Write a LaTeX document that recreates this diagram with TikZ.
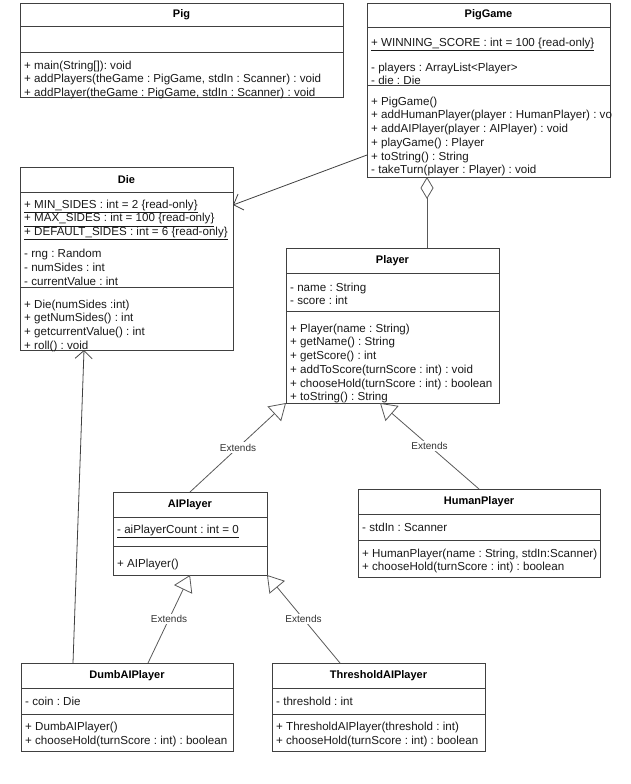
\documentclass[tikz,border=0pt]{standalone}
\usepackage{fontspec}
\setmainfont{Liberation Sans}
\usetikzlibrary{arrows.meta, positioning}

\begin{document}
\frenchspacing
\begin{tikzpicture}[
  x=1pt, y=-1pt,
  font=\fontsize{11.6}{13.7}\selectfont,
  head/.style={draw=black!75, line width=0.9pt, outer sep=0pt, anchor=north west, inner sep=0pt, font=\fontsize{11}{12}\selectfont\bfseries},
  part/.style={draw=black!75, line width=0.9pt, outer sep=0pt, inner sep=0pt},
  txt/.style={align=left, inner sep=0pt, text=black!90},
  ext/.style={draw=black!65, line width=0.8pt, -{Triangle[open, length=16pt, width=20pt]}},
  assoc/.style={draw=black!75, line width=0.8pt, -{Straight Barb[length=8pt, width=17pt]}},
  agg/.style={draw=black!65, line width=0.8pt, {Diamond[open, length=22pt, width=13pt]}-},
  lbl/.style={fill=white, inner sep=1.5pt, text=black!80, font=\fontsize{10}{11}\selectfont}
]
\useasboundingbox (0,0) rectangle (630,784);

% Pig
\node[head, minimum width=323pt, minimum height=23pt] (pigH) at (20,3) {Pig};
\node[part, minimum width=323pt, minimum height=26pt, below=0pt of pigH] (pigA) {};
\node[part, minimum width=323pt, minimum height=45pt, below=0pt of pigA] (pigM) {};
\node[txt, below right=7.5pt and 4pt of pigM.north west] (pigMt) {\strut+ main(String[]): void\\+ addPlayers(theGame : PigGame, stdIn : Scanner) : void\\+ addPlayer(theGame : PigGame, stdIn : Scanner) : void};

% PigGame
\begin{scope}
\clip (366,2) rectangle (611,178);
\node[head, minimum width=243pt, minimum height=24pt] (pgmH) at (367,3) {PigGame};
\node[part, minimum width=243pt, minimum height=58pt, below=0pt of pgmH] (pgmA) {};
\node[part, minimum width=243pt, minimum height=92pt, below=0pt of pgmA] (pgmM) {};
\node[txt, below right=9.5pt and 4pt of pgmA.north west] (pgmAt) {\strut\underline{+ WINNING\_SCORE : int = 100 \{read-only\}}\\[11.3pt]- players : ArrayList<Player>\\- die : Die};
\node[txt, below right=10.5pt and 4pt of pgmM.north west] (pgmMt) {\strut+ PigGame()\\+ addHumanPlayer(player : HumanPlayer) : void\\+ addAIPlayer(player : AIPlayer) : void\\+ playGame() : Player\\+ toString() : String\\- takeTurn(player : Player) : void};
\end{scope}

% Die
\node[head, minimum width=213pt, minimum height=25pt] (dieH) at (20,167) {Die};
\node[part, minimum width=213pt, minimum height=95pt, below=0pt of dieH] (dieA) {};
\node[part, minimum width=213pt, minimum height=63pt, below=0pt of dieA] (dieM) {};
\node[txt, below right=6.5pt and 4pt of dieA.north west] (dieAt) {\strut\underline{+ MIN\_SIDES : int = 2 \{read-only\}}\\\underline{+ MAX\_SIDES : int = 100 \{read-only\}}\\\underline{+ DEFAULT\_SIDES : int = 6 \{read-only\}}\\[8.3pt]- rng : Random\\- numSides : int\\- currentValue : int};
\node[txt, below right=11.5pt and 4pt of dieM.north west] (dieMt) {\strut+ Die(numSides :int)\\+ getNumSides() : int\\+ getcurrentValue() : int\\+ roll() : void};

% Player
\node[head, minimum width=213pt, minimum height=25pt] (plH) at (286,248) {Player};
\node[part, minimum width=213pt, minimum height=38pt, below=0pt of plH] (plA) {};
\node[part, minimum width=213pt, minimum height=92pt, below=0pt of plA] (plM) {};
\node[txt, below right=8.5pt and 4pt of plA.north west] (plAt) {\strut- name : String\\- score : int};
\node[txt, below right=11.5pt and 4pt of plM.north west] (plMt) {\strut+ Player(name : String)\\+ getName() : String\\+ getScore() : int\\+ addToScore(turnScore : int) : void\\+ chooseHold(turnScore : int) : boolean\\+ toString() : String};

% AIPlayer
\node[head, minimum width=154pt, minimum height=25pt] (aiH) at (113,492) {AIPlayer};
\node[part, minimum width=154pt, minimum height=29pt, below=0pt of aiH] (aiA) {};
\node[part, minimum width=154pt, minimum height=29pt, below=0pt of aiA] (aiM) {};
\node[txt, below right=6.5pt and 4pt of aiA.north west] (aiAt) {\strut\underline{- aiPlayerCount : int = 0}};
\node[txt, below right=11.5pt and 4pt of aiM.north west] (aiMt) {\strut+ AIPlayer()};

% HumanPlayer
\node[head, minimum width=242pt, minimum height=25pt] (huH) at (358,489) {HumanPlayer};
\node[part, minimum width=242pt, minimum height=26pt, below=0pt of huH] (huA) {};
\node[part, minimum width=242pt, minimum height=37pt, below=0pt of huA] (huM) {};
\node[txt, below right=7.5pt and 4pt of huA.north west] (huAt) {\strut- stdIn : Scanner};
\node[txt, below right=7.5pt and 4pt of huM.north west] (huMt) {\strut+ HumanPlayer(name : String, stdIn:Scanner)\\+ chooseHold(turnScore : int) : boolean};

% DumbAIPlayer
\node[head, minimum width=212pt, minimum height=25pt] (duH) at (21,663) {DumbAIPlayer};
\node[part, minimum width=212pt, minimum height=26pt, below=0pt of duH] (duA) {};
\node[part, minimum width=212pt, minimum height=37pt, below=0pt of duA] (duM) {};
\node[txt, below right=7.5pt and 4pt of duA.north west] (duAt) {\strut- coin : Die};
\node[txt, below right=7pt and 4pt of duM.north west] (duMt) {\strut+ DumbAIPlayer()\\+ chooseHold(turnScore : int) : boolean};

% ThresholdAIPlayer
\node[head, minimum width=213pt, minimum height=25pt] (thH) at (272,663) {ThresholdAIPlayer};
\node[part, minimum width=213pt, minimum height=26pt, below=0pt of thH] (thA) {};
\node[part, minimum width=213pt, minimum height=37pt, below=0pt of thA] (thM) {};
\node[txt, below right=7.5pt and 4pt of thA.north west] (thAt) {\strut- threshold : int};
\node[txt, below right=7pt and 4pt of thM.north west] (thMt) {\strut+ ThresholdAIPlayer(threshold : int)\\+ chooseHold(turnScore : int) : boolean};

% connectors
\draw[assoc] ([yshift=-24pt]pgmM.west) -- ([yshift=34.5pt]dieA.east);
\draw[agg] ([xshift=-61.5pt]pgmM.south) -- ([xshift=-61.5pt]pgmM.south |- plH.north);
\draw[ext] (aiH.north) -- node[lbl] {Extends} (plM.south west);
\draw[ext] (huH.north) -- node[lbl] {Extends} ([xshift=-12.5pt]plM.south);
\draw[ext] ([xshift=21pt]duH.north) -- node[lbl] {Extends} (aiM.south);
\draw[ext] ([xshift=-38.5pt]thH.north) -- node[lbl] {Extends} (aiM.south east);
\draw[assoc] ([xshift=-54pt]duH.north) -- ([xshift=-42.5pt]dieM.south);
\end{tikzpicture}
\end{document}
